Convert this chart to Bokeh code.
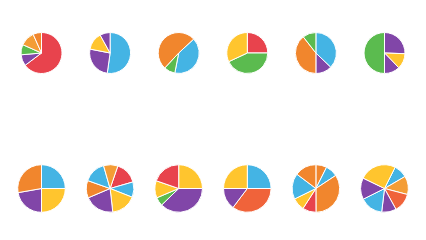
import numpy as np
from bokeh.plotting import figure
from bokeh.models import ColumnDataSource, Range1d
from bokeh.embed import file_html
from bokeh.resources import INLINE

# palette
RED = "#E8434D"
BLUE = "#44B4E4"
PURPLE = "#8146A8"
YELLOW = "#FFC52E"
GREEN = "#5BBB4F"
ORANGE = "#F1862D"
LORANGE = "#F49D35"
RORANGE = "#F0633A"

# slice values per pie (row-major, 2 rows x 6 columns)
pie1_values = [233, 32, 29, 42, 24]
pie1_colors = [RED, PURPLE, GREEN, LORANGE, ORANGE]
pie2_values = [188, 93, 50, 29]
pie2_colors = [BLUE, PURPLE, YELLOW, PURPLE]
pie3_values = [144, 32, 184]
pie3_colors = [BLUE, GREEN, ORANGE]
pie4_values = [90, 155, 115]
pie4_colors = [RED, GREEN, YELLOW]
pie5_values = [134, 46, 142, 38]
pie5_colors = [BLUE, PURPLE, ORANGE, GREEN]
pie6_values = [92, 44, 44, 180]
pie6_colors = [PURPLE, YELLOW, PURPLE, GREEN]
pie7_values = [90, 90, 80, 100]
pie7_colors = [BLUE, YELLOW, PURPLE, ORANGE]
pie8_values = [55, 37.5, 62, 73.4, 42.5, 54.5, 35]
pie8_colors = [RED, BLUE, YELLOW, PURPLE, ORANGE, BLUE, LORANGE]
pie9_values = [90, 136, 21, 42, 71]
pie9_colors = [YELLOW, PURPLE, GREEN, YELLOW, RED]
pie10_values = [90, 127, 53, 90]
pie10_colors = [BLUE, RORANGE, PURPLE, YELLOW]
pie11_values = [26.6, 30, 123, 33, 31, 63, 53]
pie11_colors = [ORANGE, BLUE, ORANGE, RED, YELLOW, BLUE, ORANGE]
pie12_values = [33, 45, 46.5, 35.7, 56.4, 52.6, 90.6]
pie12_colors = [BLUE, LORANGE, RORANGE, PURPLE, BLUE, PURPLE, YELLOW]

# rotation of first slice boundary, degrees clockwise from 12 o'clock
rotations = [0, 0, 47, 0, 0, 0, 0, 19, 0, 0, 0, 26.6]

pies = [
    (pie1_values, pie1_colors), (pie2_values, pie2_colors),
    (pie3_values, pie3_colors), (pie4_values, pie4_colors),
    (pie5_values, pie5_colors), (pie6_values, pie6_colors),
    (pie7_values, pie7_colors), (pie8_values, pie8_colors),
    (pie9_values, pie9_colors), (pie10_values, pie10_colors),
    (pie11_values, pie11_colors), (pie12_values, pie12_colors),
]

W, H = 426, 240
col_x = [41 + 68.6 * i for i in range(6)]
row_y = [52.5, 188]
row_r = [20.5, 23.8]

xs, ys, rs, sa, ea, cols = [], [], [], [], [], []
for k, (vals, colors) in enumerate(pies):
    r, c = divmod(k, 6)
    v = np.array(vals, dtype=float)
    cum = np.concatenate([[0], np.cumsum(v)]) / v.sum() * 360.0 + rotations[k]
    for i in range(len(v)):
        xs.append(col_x[c])
        ys.append(H - row_y[r])
        rs.append(row_r[r])
        sa.append(np.deg2rad(90 - cum[i]))
        ea.append(np.deg2rad(90 - cum[i + 1]))
        cols.append(colors[i])

src = ColumnDataSource(dict(x=xs, y=ys, r=rs, sa=sa, ea=ea, c=cols))

p = figure(width=W, height=H, output_backend="svg", toolbar_location=None,
           x_range=Range1d(0, W), y_range=Range1d(0, H),
           min_border=0, min_border_left=0, min_border_right=0,
           min_border_top=0, min_border_bottom=0)
p.axis.visible = False
p.grid.visible = False
p.outline_line_color = None
p.background_fill_color = "white"
p.border_fill_color = "white"

p.wedge(x="x", y="y", radius="r", radius_units="screen",
        start_angle="sa", end_angle="ea", direction="clock",
        fill_color="c", line_color="white", line_width=1, source=src)

open("out.html", "w").write(file_html(p, INLINE))
